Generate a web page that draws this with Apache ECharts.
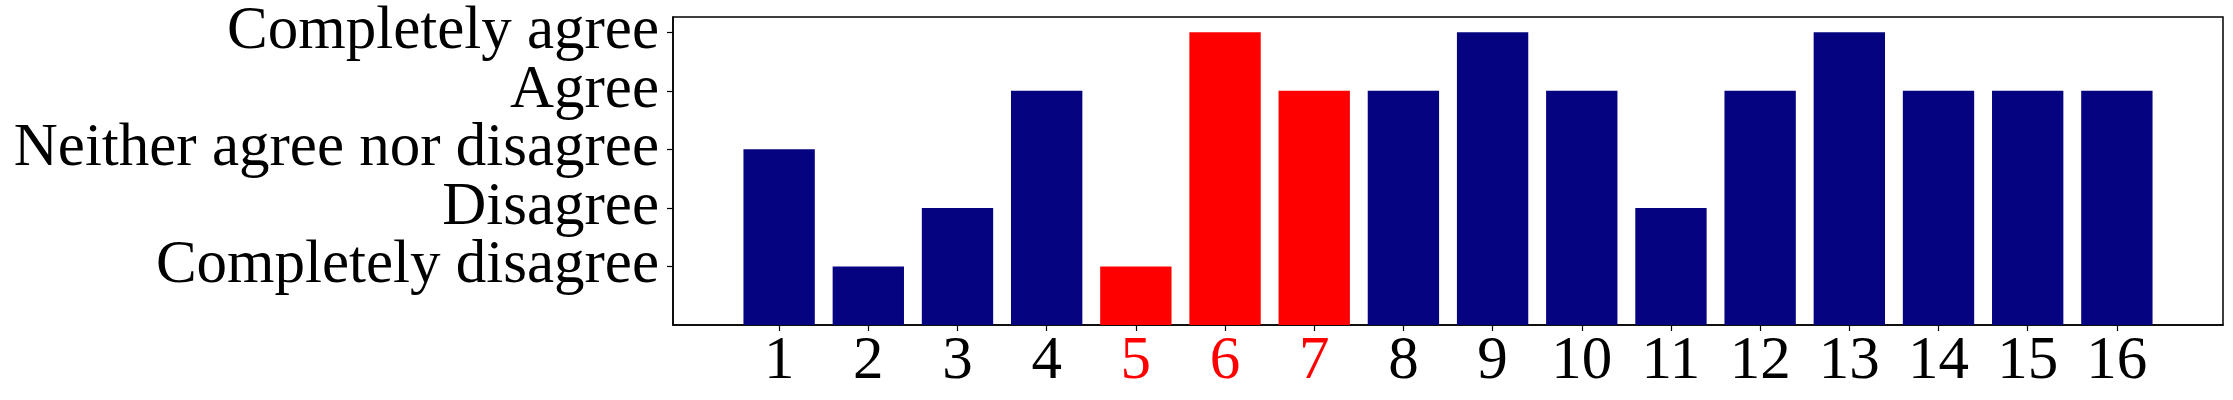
<!DOCTYPE html>
<html><head><meta charset="utf-8">
<script src="https://cdn.jsdelivr.net/npm/echarts@6/dist/echarts.min.js"></script>
<style>html,body{margin:0;padding:0;background:#fff}#c{width:2233px;height:400px}</style>
</head><body><div id="c"></div>
<script>
const categories = [1,2,3,4,5,6,7,8,9,10,11,12,13,14,15,16];
const values = [3,1,2,4,1,5,4,4,5,4,2,4,5,4,4,4];
const highlighted = [5,6,7];
const levelLabels = ['Completely disagree','Disagree','Neither agree nor disagree','Agree','Completely agree'];
const levelValues = [1,2,3,4,5];

const NAVY = '#060381', RED = '#ff0000';
const FONT = 'Liberation Serif';
const W = 2233, H = 400;
const G = {left:673, top:17, right:10, bottom:75};
const Y_MAX = 5.26;
const unit = (H - G.top - G.bottom) / Y_MAX;
const lvMin = levelValues[0], lvMax = levelValues[levelValues.length-1];
const G2 = {left:G.left, right:G.right,
  top: G.top + (Y_MAX - (lvMax + 0.5)) * unit,
  bottom: G.bottom + (lvMin - 0.5) * unit};

const chart = echarts.init(document.getElementById('c'), null, {renderer:'canvas'});
const data = categories.map((c,i)=>[c, values[i]]);
chart.setOption({
  animation:false,
  backgroundColor:'#fff',
  grid:[
    Object.assign({show:true, borderColor:'#000', borderWidth:1.5, backgroundColor:'transparent'}, G),
    Object.assign({show:false}, G2)
  ],
  xAxis:[{type:'value', gridIndex:0, min:-0.19, max:17.19,
    splitLine:{show:false},
    axisLine:{show:true, onZero:false, lineStyle:{color:'#000', width:1.5}},
    axisTick:{show:true, customValues:categories, length:6, lineStyle:{color:'#000', width:1.2}},
    axisLabel:{show:true, customValues:categories, margin:6, hideOverlap:false, showMinLabel:true, showMaxLabel:true,
      fontFamily:FONT, fontSize:61, color:'#000',
      formatter:(v)=> highlighted.includes(v) ? '{r|'+v+'}' : '{k|'+v+'}',
      rich:{r:{color:RED, fontFamily:FONT, fontSize:61}, k:{color:'#000', fontFamily:FONT, fontSize:61}}}
  },{type:'value', gridIndex:1, show:false}],
  yAxis:[{type:'value', gridIndex:0, min:0, max:Y_MAX,
    splitLine:{show:false},
    axisLine:{show:true, onZero:false, lineStyle:{color:'#000', width:1.5}},
    axisTick:{show:false},
    axisLabel:{show:false}
  },{type:'category', gridIndex:1, data:levelLabels, boundaryGap:true,
    splitLine:{show:false},
    axisLine:{show:false, onZero:false},
    axisTick:{show:true, interval:0, alignWithLabel:true, length:6, lineStyle:{color:'#000', width:1.2}},
    axisLabel:{show:true, interval:0, margin:14, hideOverlap:false,
      fontFamily:FONT, fontSize:61, color:'#000'}
  }],
  series:[{
    type:'custom',
    xAxisIndex:0, yAxisIndex:0,
    data:data,
    encode:{x:0,y:1},
    renderItem:(params, api)=>{
      const x = api.value(0), y = api.value(1);
      const p0 = api.coord([x-0.4, 0]);
      const p1 = api.coord([x+0.4, y]);
      return {type:'rect', shape:{x:p0[0], y:p1[1], width:p1[0]-p0[0], height:p0[1]-p1[1]},
        style:{fill: highlighted.includes(x) ? RED : NAVY}};
    }
  }]
});
</script></body></html>
